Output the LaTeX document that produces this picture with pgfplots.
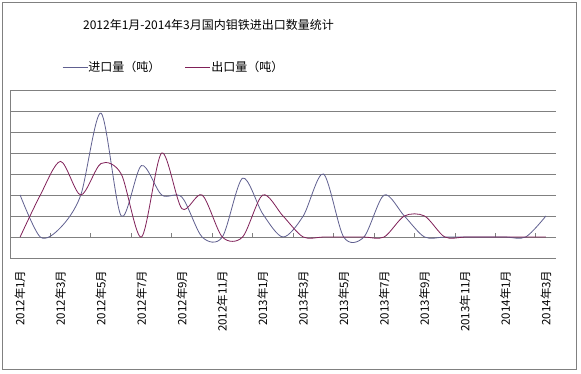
\documentclass[border=0pt]{standalone}
\usepackage{fontspec}
\setmainfont{Noto Sans CJK SC}
\usepackage{pgfplots}
\pgfplotsset{compat=1.18}
\definecolor{imp}{RGB}{96,96,144}
\definecolor{expc}{RGB}{128,32,88}
\definecolor{gridc}{RGB}{128,128,128}
\pgfplotstableread{
x imp exp
0 2 0
1 0 2
2 0.45 3.6
3 2 2
4 5.9 3.5
5 1 3
6 3.4 0
7 2 4
8 1.9 1.35
9 0 2
10 0 0
11 2.8 0
12 1.1 2
13 0 1
14 1 0
15 3 0
16 0 0
17 0 0
18 2 0
19 1 1
20 0 1
21 0 0
22 0 0
23 0 0
24 0 0
25 0 0
26 1 0
}\datatable
\begin{document}
\begin{tikzpicture}[x=1bp,y=1bp]
\path[use as bounding box, fill=white] (0,0) rectangle (581,373);
\draw[gridc, line width=0.8bp] (2,4) rectangle (576,371);
\node[font=\fontsize{12bp}{14bp}\selectfont, anchor=center, inner sep=0pt] at (208.5,348) {2012年1月-2014年3月国内钼铁进出口数量统计};
\begin{axis}[
  at={(10bp,115bp)}, anchor=south west,
  scale only axis, width=546bp, height=168bp,
  xmin=-0.5, xmax=26.5, ymin=-1, ymax=7,
  axis x line*=bottom, axis y line*=left,
  x axis line style={draw=none},
  y axis line style={gridc, line width=0.8bp},
  ytick={-1,0,...,7}, yticklabels={,,,,,,,,,}, major tick length=0pt,
  ymajorgrids, grid style={gridc, line width=0.8bp},
  xtick={0,2,...,26},
  xticklabels={2012年1月,2012年3月,2012年5月,2012年7月,2012年9月,2012年11月,2013年1月,2013年3月,2013年5月,2013年7月,2013年9月,2013年11月,2014年1月,2014年3月},
  xticklabel style={rotate=90, anchor=east, font=\fontsize{11.5bp}{12bp}\selectfont},
  xticklabel shift=9bp,
  legend columns=2,
  legend style={draw=none, fill=none, at={(rel axis cs:0.0952,1.137)}, anchor=west,
    font=\fontsize{12bp}{14bp}\selectfont, inner sep=0pt,
    nodes={inner sep=0.5bp},
    /tikz/every even column/.append style={column sep=24bp}},
  legend image code/.code={\draw[#1] (0bp,0bp) -- (25bp,0bp);},
]
\pgfplotsinvokeforeach{1.5,3.5,5.5,7.5,9.5,11.5,13.5,15.5,17.5,19.5,21.5,23.5,25.5}{
  \draw[gridc, line width=0.8bp] (axis cs:#1,0) -- (axis cs:#1,0.2);
}
\addplot[imp, line width=0.8bp, smooth, no markers] table[x=x, y=imp] {\datatable};
\addlegendentry{进口量（吨）}
\addplot[expc, line width=0.8bp, smooth, no markers] table[x=x, y=exp] {\datatable};
\addlegendentry{出口量（吨）}
\end{axis}
\end{tikzpicture}
\end{document}
